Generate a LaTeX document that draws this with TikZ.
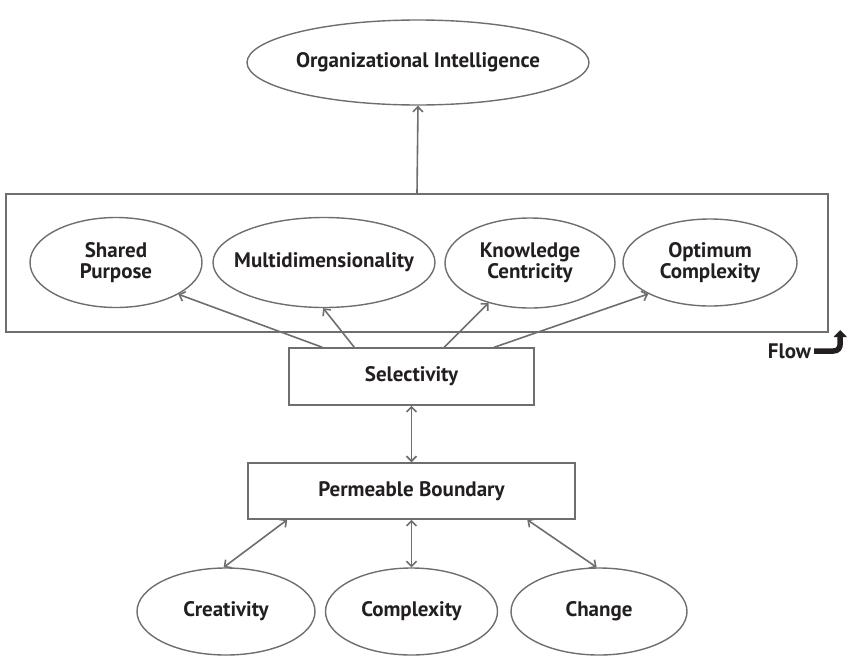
\documentclass[tikz,border=0pt]{standalone}
\usepackage{fontspec}
\setmainfont{PT Sans}
\usetikzlibrary{shapes.geometric,arrows.meta,calc}
\definecolor{ln}{HTML}{6D6E71}
\definecolor{tx}{HTML}{231F20}
\newcommand{\lbl}{\bfseries\fontsize{21}{21}\selectfont}
\begin{document}
\begin{tikzpicture}[x=1pt,y=-1pt,
  oval/.style={ellipse, draw=ln, line width=1.4pt, inner ysep=0pt, inner xsep=-25pt, text=tx, font=\lbl, align=center},
  boxn/.style={rectangle, draw=ln, line width=1.5pt, inner sep=0pt, text=tx, font=\lbl, align=center},
  conn/.style={draw=ln, line width=1.6pt, -{Straight Barb[length=5pt,width=10pt]}},
  biconn/.style={draw=ln, line width=1.6pt, {Straight Barb[length=5pt,width=10pt]}-{Straight Barb[length=5pt,width=10pt]}}]
\useasboundingbox (0,0) rectangle (847,659);
% top
\node[oval, minimum width=342pt, minimum height=85pt] (oi) at (418,62.5) {Organizational Intelligence};
\node[boxn, minimum width=822pt, minimum height=138pt] (box) at (417,263) {};
\node[oval, minimum width=172pt, minimum height=90pt] (sp) at (116,262.5) {Shared\\Purpose};
\node[oval, minimum width=222pt, minimum height=90pt] (md) at (324,262.5) {Multidimensionality};
\node[oval, minimum width=170pt, minimum height=90pt] (kc) at (530,263) {Knowledge\\Centricity};
\node[oval, minimum width=174pt, minimum height=87pt] (oc) at (710,262.5) {Optimum\\Complexity};
\node[boxn, minimum width=245pt, minimum height=57pt] (sel) at (411.5,376.5) {Selectivity};
\node[boxn, minimum width=327pt, minimum height=56pt] (pb) at (411.5,491) {Permeable Boundary};
\node[oval, minimum width=178pt, minimum height=87pt] (cr) at (226,611.5) {Creativity};
\node[oval, minimum width=172pt, minimum height=87pt] (co) at (411.5,611.5) {Complexity};
\node[oval, minimum width=176pt, minimum height=87pt] (ch) at (599,611.5) {Change};
% connectors
\draw[conn] (box.north) -- (oi.south);
\draw[conn] ([xshift=34pt]sel.north west) -- (sp.-27);
\draw[conn] ([xshift=66pt]sel.north west) -- (md.-91);
\draw[conn] ([xshift=156pt]sel.north west) -- (kc.-136);
\draw[conn] ([xshift=206pt]sel.north west) -- (oc.-153);
\draw[biconn] (sel.south) -- (pb.north);
\draw[biconn] ([xshift=40pt]pb.south west) -- (cr.93);
\draw[biconn] (pb.south) -- (co.north);
\draw[biconn] ([xshift=280pt]pb.south west) -- (ch.93);
% flow marker
\node[text=tx, font=\lbl, inner sep=0pt] (flow) at (789.5,351) {Flow};
\draw[line width=5.5pt, draw=tx, -{Triangle[length=7pt,width=13pt]}]
  ([xshift=3pt]flow.east) -- ++(19,0) .. controls +(5,0) and +(0,5) .. ++(7,-8) -- ++(0,-13);
\end{tikzpicture}
\end{document}
